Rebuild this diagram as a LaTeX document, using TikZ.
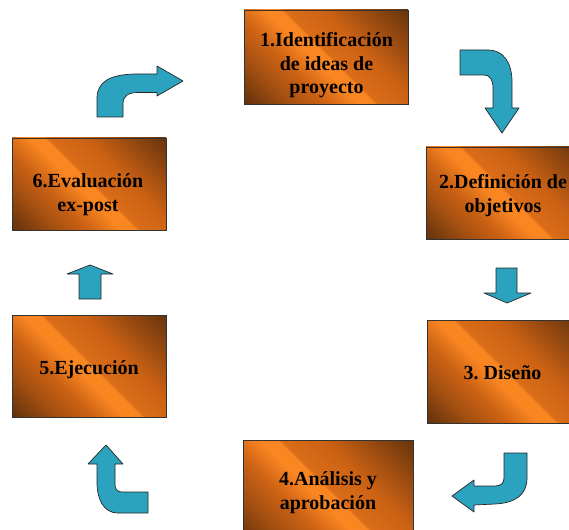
\documentclass[tikz,border=0pt]{standalone}
\usepackage{fontspec}
\setmainfont{Liberation Serif}
\frenchspacing

\definecolor{cuDark}{RGB}{100,50,12}
\definecolor{cuMid}{RGB}{204,98,20}
\definecolor{cuBright}{RGB}{250,134,34}
\definecolor{arrowFill}{RGB}{43,163,190}

% metallic copper finish for the stage boxes
% (with a 45 degree angle the box corners sit at about 15bp and 85bp)
\pgfdeclarehorizontalshading{copper}{100bp}{%
  color(0bp)=(cuDark); color(15bp)=(cuDark); color(27bp)=(cuMid!60!cuDark);
  color(37bp)=(cuMid); color(46bp)=(cuBright); color(50.5bp)=(cuBright);
  color(51.5bp)=(cuMid!70!cuBright); color(62bp)=(cuMid);
  color(74bp)=(cuMid!50!cuDark); color(86bp)=(cuDark); color(100bp)=(cuDark)}

\tikzset{
  stage/.style={rectangle, draw=black!80, line width=0.8pt, inner sep=0pt,
    shading=copper, shading angle=45},
  stagetext/.style={font=\bfseries\fontsize{20}{23.5}\selectfont,
    align=center, inner sep=0pt},
  blockarrow/.style={fill=arrowFill, draw=black!85, line width=0.7pt,
    line join=round},
}

\begin{document}
\begin{tikzpicture}[x=1pt, y=-1pt]
\useasboundingbox (0,0) rectangle (569,529);
\clip (0,0) rectangle (569,529);

% stage boxes
\node[stage, minimum width=164pt, minimum height=94pt]  (b1) at (326,57) {};
\node[stage, minimum width=155pt, minimum height=92pt]  (b2) at (503.5,193) {};
\node[stage, minimum width=151pt, minimum height=103pt] (b3) at (502.5,371.5) {};
\node[stage, minimum width=170pt, minimum height=105pt] (b4) at (328,492.5) {};
\node[stage, minimum width=154pt, minimum height=102pt] (b5) at (89,366) {};
\node[stage, minimum width=154pt, minimum height=92pt]  (b6) at (89,184) {};

% stage labels
\node[stagetext] (t1) at (326.5,65.8) {\strut 1.Identificación\\de ideas de\\proyecto\strut};
\node[stagetext] (t2) at (503,196)    {\strut 2.Definición de\\objetivos\strut};
\node[stagetext] (t3) at (502.5,375)  {\strut 3. Diseño};
\node[stagetext] (t4) at (328,493)    {\strut 4.Análisis y\\aprobación\strut};
\node[stagetext] (t5) at (89,369.3)   {\strut 5.Ejecución};
\node[stagetext] (t6) at (88,195)     {\strut 6.Evaluación\\ex-post\strut};

% block arrows between the stages
% 6 -> 1 : up, then right
\draw[blockarrow] (97,117) -- (97,98) .. controls (97,82) and (110,74.5) .. (135,74)
  -- (157,74) -- (157,66) -- (183,81) -- (157,96) -- (157,92.5) -- (138,92.5)
  .. controls (128,92.5) and (123,96) .. (123,104) -- (123,117) -- cycle;
% 1 -> 2 : right, then down
\draw[blockarrow] (460,50) -- (488,50) .. controls (503,50) and (512,62) .. (512,82)
  -- (512,108) -- (519,108) -- (502,133) -- (485,108) -- (493,108) -- (493,88)
  .. controls (493,80) and (490,75) .. (484,75) -- (460,75) -- cycle;
% 2 -> 3 : straight down
\draw[blockarrow] (496,268) -- (517,268) -- (517,293) -- (531,293) -- (507,303)
  -- (484,293) -- (496,293) -- cycle;
% 3 -> 4 : down, then left
\draw[blockarrow] (504,453) -- (527,453) -- (527,478) .. controls (527,495) and (515,503) .. (495,504)
  -- (474,505) -- (474,512) -- (452,496) -- (474,480) -- (474,486) -- (495,486)
  .. controls (501,486) and (504,483) .. (504,478) -- cycle;
% 4 -> 5 : left, then up
\draw[blockarrow] (148,492) -- (148,513) -- (118,513) .. controls (104,513) and (97,500) .. (97,482)
  -- (97,464) -- (88,464) -- (106,445) -- (123,464) -- (115,464) -- (115,484)
  .. controls (115,489) and (117,492) .. (122,492) -- cycle;
% 5 -> 6 : straight up
\draw[blockarrow] (79,299) -- (101,299) -- (101,274) -- (113,274) -- (90,265)
  -- (67,274) -- (79,274) -- cycle;
\end{tikzpicture}
\end{document}
